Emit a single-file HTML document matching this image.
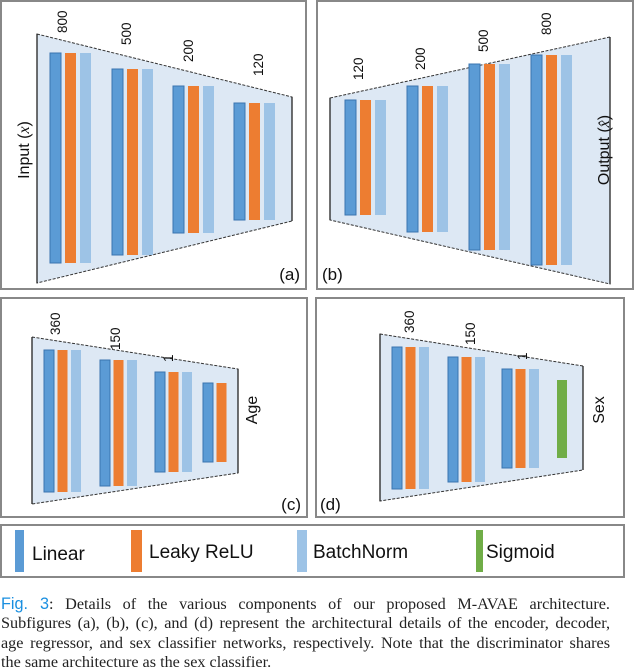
<!DOCTYPE html>
<html><head><meta charset="utf-8"><style>
body{margin:0;background:#fff;width:640px;height:671px;overflow:hidden;font-family:"Liberation Sans",sans-serif}
svg{position:absolute;left:0;top:0}
#cap{position:absolute;left:1px;top:595px;width:609px;font-family:"Liberation Serif",serif;font-size:16.2px;line-height:19.3px;color:#222}
#cap div{text-align:justify;text-align-last:justify;white-space:nowrap}
#cap div.last{text-align-last:left}
#cap span{color:#1a8fe0;font-family:"Liberation Sans",sans-serif}
</style></head><body>
<svg width="640" height="671">
<g stroke="#888" stroke-width="2" fill="none">
<rect x="1" y="1" width="305" height="288"/>
<rect x="317" y="1" width="316" height="288"/>
<rect x="1" y="298" width="306" height="219"/>
<rect x="316" y="298" width="308" height="219"/>
<rect x="1" y="525" width="623" height="52"/>
</g>
<g fill="#dde8f4" stroke="#333" stroke-width="1" stroke-dasharray="3,1.5">
<polygon points="37,34 292,97 292,221 37,283"/>
<polygon points="330,98 610,37 610,284 330,220"/>
<polygon points="32,337 238,369 238,473 32,504"/>
<polygon points="380,334 583,366 583,470 380,501"/>
</g>
<g stroke="#222" stroke-width="1.3">
<line x1="37" y1="34" x2="37" y2="283"/><line x1="292" y1="97" x2="292" y2="221"/>
<line x1="330" y1="98" x2="330" y2="220"/><line x1="610" y1="37" x2="610" y2="284"/>
<line x1="238" y1="369" x2="238" y2="473"/><line x1="32" y1="337" x2="32" y2="504"/>
<line x1="583" y1="366" x2="583" y2="470"/><line x1="380" y1="334" x2="380" y2="501"/>
</g>
<g id="bars"></g>
<g font-size="13.5" fill="#111" id="labels"></g>
<g fill="#111" font-size="16">
<text transform="translate(29,150) rotate(-90)" text-anchor="middle">Input (<tspan font-style="italic" font-family="Liberation Serif">x</tspan>)</text>
<text transform="translate(609,150) rotate(-90)" text-anchor="middle">Output (<tspan font-style="italic" font-family="Liberation Serif">x̂</tspan>)</text>
<text transform="translate(257,410) rotate(-90)" text-anchor="middle">Age</text>
<text transform="translate(604,410) rotate(-90)" text-anchor="middle">Sex</text>
<text x="300" y="280" text-anchor="end" font-size="17">(a)</text>
<text x="322" y="280" font-size="17">(b)</text>
<text x="301" y="510" text-anchor="end" font-size="17">(c)</text>
<text x="320" y="510" font-size="17">(d)</text>
</g>
<g font-size="19" fill="#111">
<rect x="15" y="530" width="9" height="42" fill="#5b9bd5"/>
<text x="32" y="560">Linear</text>
<rect x="131" y="530" width="11" height="42" fill="#ed7d31"/>
<text x="149" y="558">Leaky ReLU</text>
<rect x="297" y="530" width="10" height="42" fill="#9dc3e6"/>
<text x="313" y="558">BatchNorm</text>
<rect x="476" y="530" width="7" height="42" fill="#70ad47"/>
<text x="486" y="558">Sigmoid</text>
</g>
</svg>
<div id="cap">
<div><span>Fig. 3</span>: Details of the various components of our proposed M-AVAE architecture.</div>
<div>Subfigures (a), (b), (c), and (d) represent the architectural details of the encoder, decoder,</div>
<div>age regressor, and sex classifier networks, respectively. Note that the discriminator shares</div>
<div class="last">the same architecture as the sex classifier.</div>
</div>
<script>
const layerSizesA=[800,500,200,120];
const layerSizesB=[120,200,500,800];
const layerSizesC=[360,150,1];
const layerSizesD=[360,150,1];
const groups=[
 [50,53,263,"LOB"],[112,69,255,"LOB"],[173,86,233,"LOB"],[234,103,220,"LOB"],
 [345,100,215,"LOB"],[407,86,232,"LOB"],[469,64,250,"LOB"],[531,55,265,"LOB"],
 [44,350,492,"LOB"],[100,360,486,"LOB"],[155,372,472,"LOB"],[203,383,462,"LO"],
 [392,347,489,"LOB"],[448,357,482,"LOB"],[502,369,468,"LOB"],[557,380,458,"S"]];
const fills={L:"#5b9bd5",O:"#ed7d31",B:"#9dc3e6",S:"#70ad47"};
const ns="http://www.w3.org/2000/svg";
const bars=document.getElementById('bars');
groups.forEach((g,gi)=>{
 const small=gi>=8;
 [...g[3]].forEach((t,i)=>{
  const r=document.createElementNS(ns,'rect');
  const w=small?10:11, step=small?13.5:15;
  r.setAttribute('x',g[0]+i*step);r.setAttribute('y',g[1]);
  r.setAttribute('width',w);r.setAttribute('height',g[2]-g[1]);
  r.setAttribute('fill',fills[t]);
  if(t==='L'){r.setAttribute('stroke','#3a75b0');r.setAttribute('stroke-width','1');}
  
  
  bars.appendChild(r);
 });
});
const labels=document.getElementById('labels');
const labelPos=[[67,33],[131,45],[193,62],[263,76],[363,80],[425,70],[488,52],[551,35],[60,335],[120,350],[173,362],[414,333],[475,345],[527,360]];
const allSizes=[...layerSizesA,...layerSizesB,...layerSizesC,...layerSizesD];
allSizes.forEach((v,i)=>{
 const t=document.createElementNS(ns,'text');
 t.setAttribute('transform',`translate(${labelPos[i][0]},${labelPos[i][1]}) rotate(-90)`);
 t.textContent=v;
 
 
 labels.appendChild(t);
});
</script>
</body></html>
